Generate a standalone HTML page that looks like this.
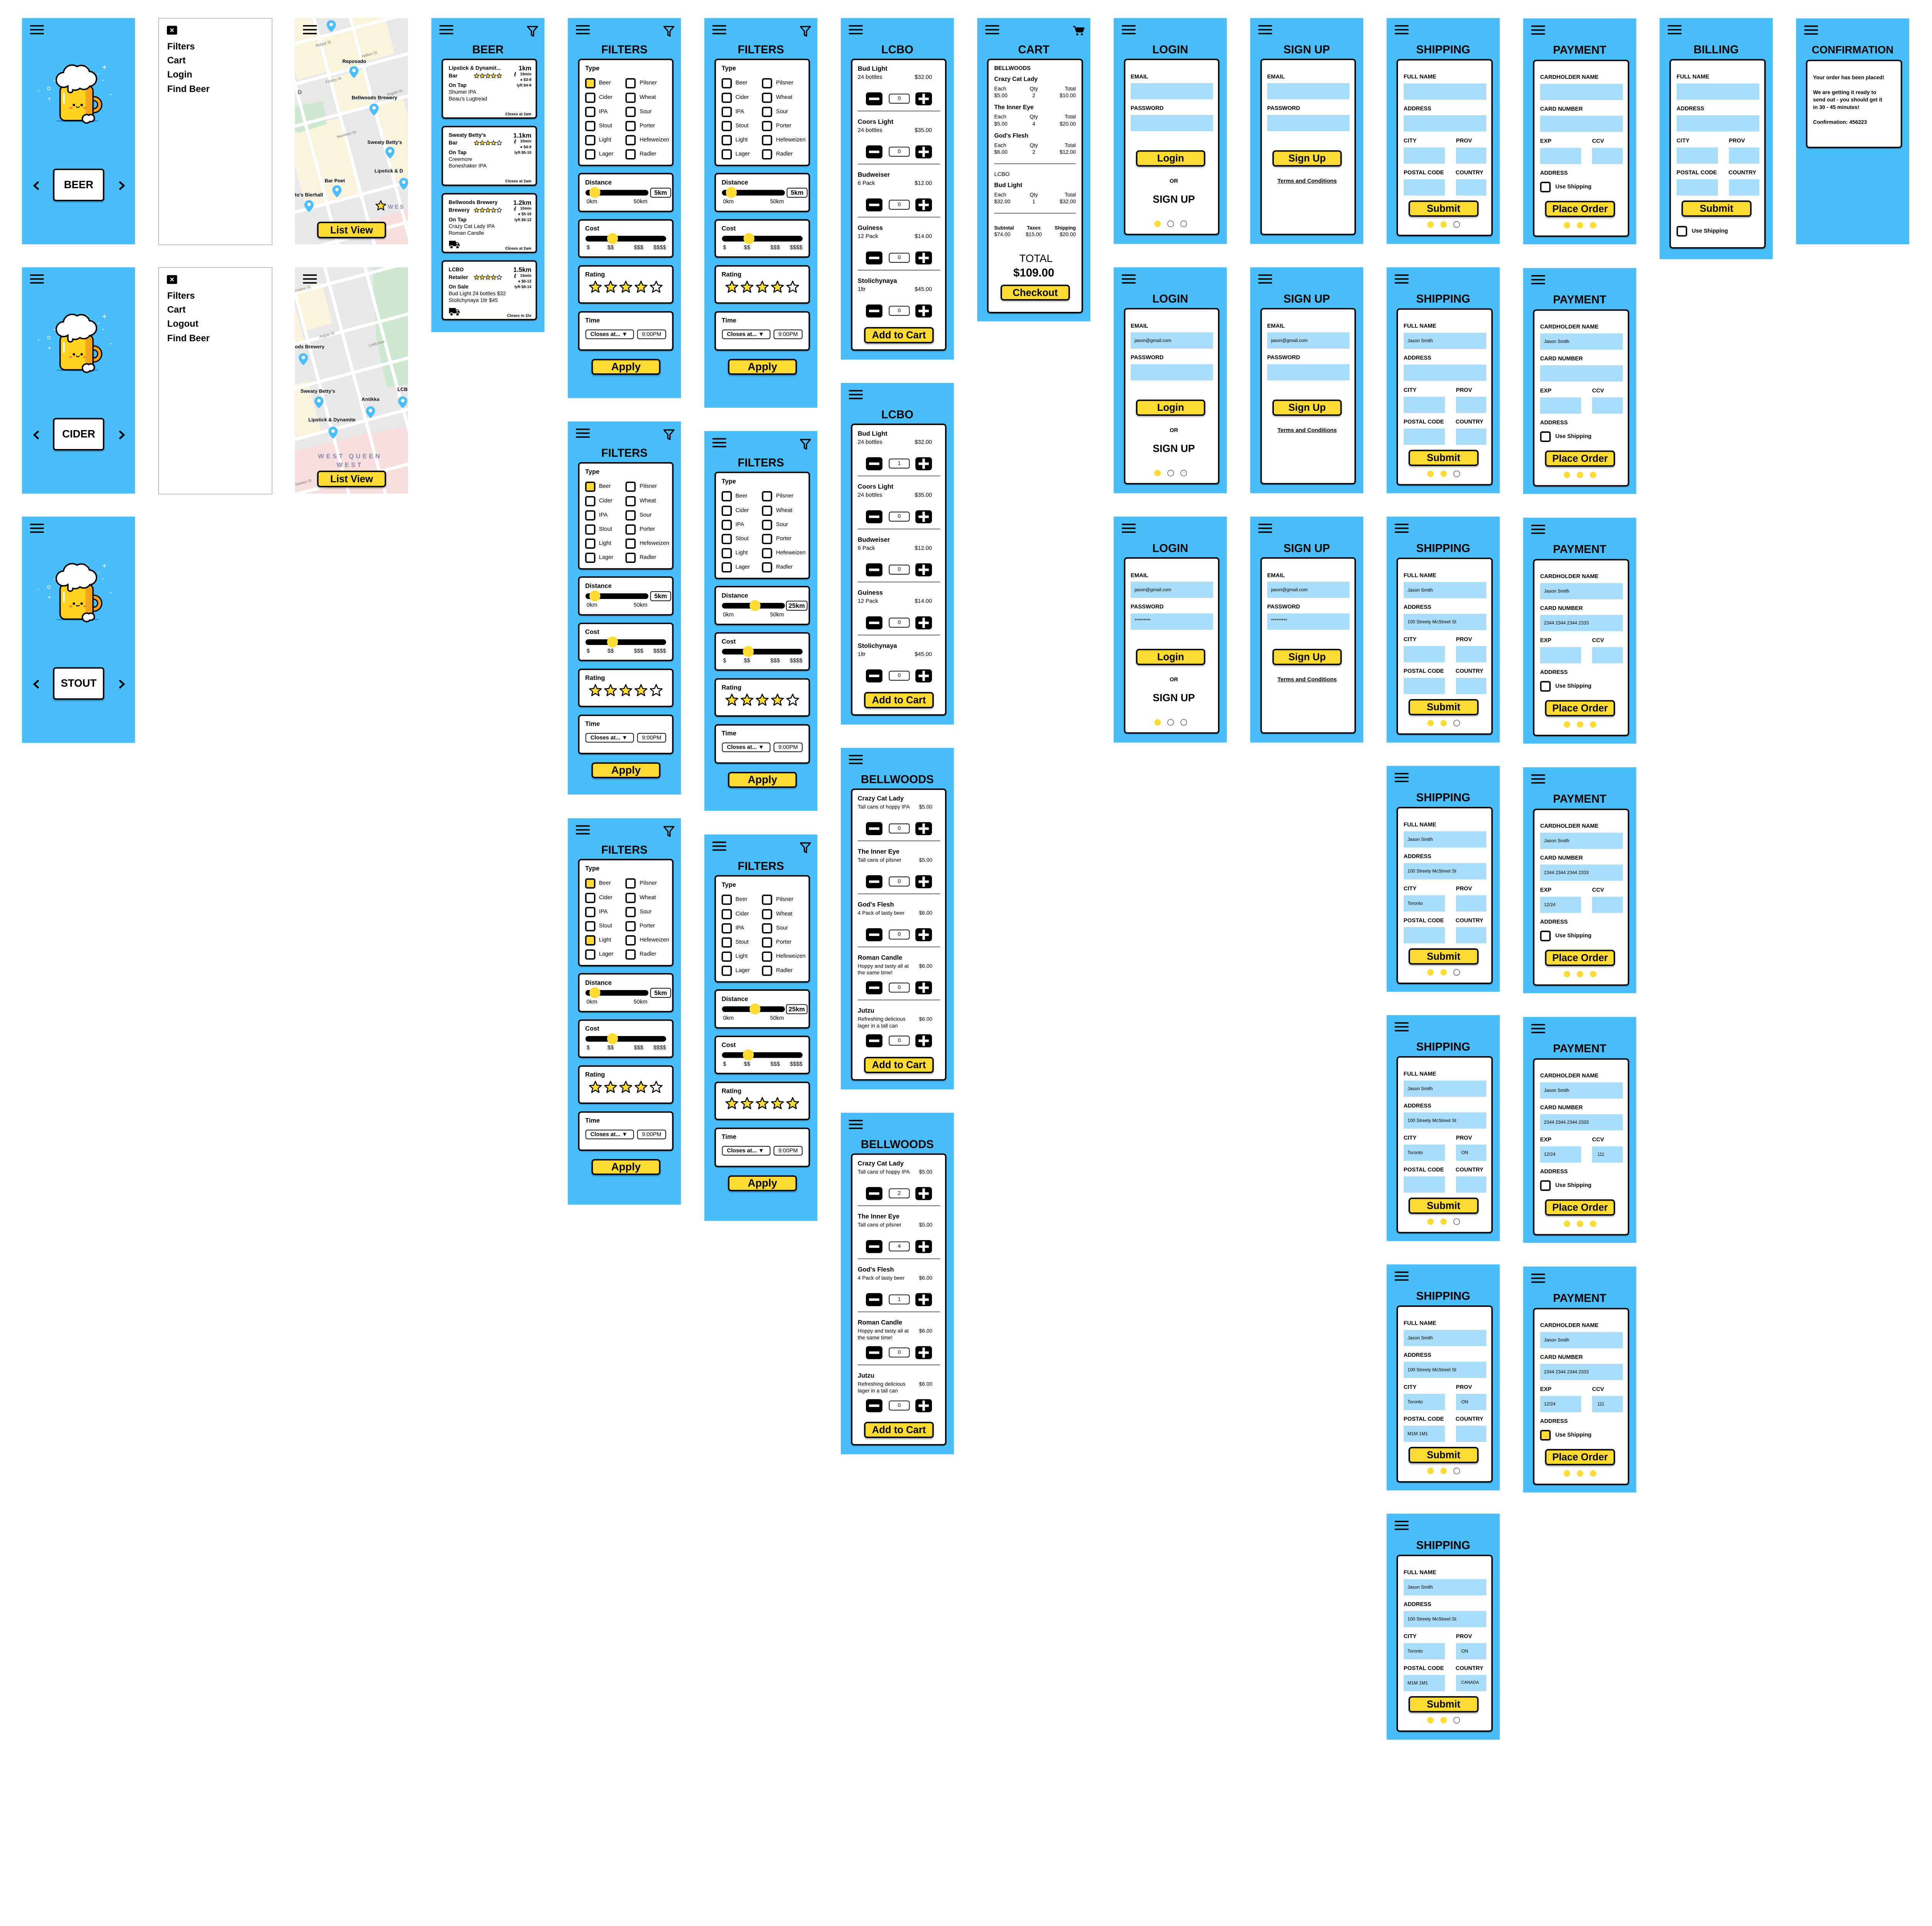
<!DOCTYPE html>
<html><head><meta charset="utf-8">
<meta name="viewport" content="width=5462, initial-scale=1">
<style>
html{margin:0;padding:0;width:5462px;height:4984px;overflow:hidden}
body{margin:0;width:5462px;height:4984px;position:relative;background:#fff;font-family:"Liberation Sans",Arial,sans-serif;overflow:hidden;color:#000}
#w{position:absolute;left:0;top:0;width:5462px;height:4984px;transform:scale(0.915);transform-origin:0 0}
.s{position:absolute;width:320px;background:#4ABEFB}
.s>*{position:absolute;box-sizing:border-box}
.hb{left:23px;top:20px;width:39px;height:26px;border-top:4px solid #000;border-bottom:4px solid #000}
.hb:after{content:"";position:absolute;left:0;right:0;top:7px;height:4px;background:#000}
.t{left:0;width:320px;text-align:center;font-weight:bold;font-size:32px;line-height:1;top:73px;white-space:nowrap}
.c{left:29px;width:270px;background:#fff;border:4px solid #000;border-radius:9px;box-shadow:0 2px 3px rgba(0,0,0,.25)}
.x{white-space:nowrap;line-height:1}
.b{font-weight:bold}
.in{background:#A9DCF8;height:46px;padding-left:11px;line-height:46px;font-size:13px;white-space:nowrap}
.btn{background:#FDDB33;border:4px solid #000;border-radius:9px;text-align:center;font-weight:bold;box-shadow:0 3px 4px rgba(0,0,0,.3);white-space:nowrap}
.d{width:18px;height:18px;border-radius:50%;background:#FDDB33}
.d0{background:#fff;border:1.5px solid #000}
.cb{width:29px;height:29px;border:4px solid #000;border-radius:6px;background:#fff}
.on{background:#FDDB33}
.bar{height:16px;border-radius:8px;background:#000}
.kn{width:31px;height:31px;border-radius:50%;background:#FDDB33}
.vb{background:#fff;border:2px solid #000;border-radius:6px;text-align:center;font-size:18px;line-height:24px;font-weight:bold}
.dd{background:#fff;border:2px solid #000;border-radius:6px;font-size:16px;line-height:23px;padding-left:12px;white-space:nowrap;font-weight:bold;height:27px}
.q{background:#fff;border:2px solid #000;border-radius:6px;text-align:center;font-size:15px;line-height:24px;width:59px;height:28px}
.dv{height:2px;background:#555;left:48px;width:233px}
.menu{background:#fff;border:1px solid #777}
.mi{left:24px;font-size:26px;font-weight:bold;line-height:1;white-space:nowrap}
.ml{font-weight:bold;font-size:14px;fill:#000;stroke:#fff;stroke-width:3px;paint-order:stroke;font-family:"Liberation Sans",sans-serif}
.sl{font-size:11px;fill:#7a7a7a;font-family:"Liberation Sans",sans-serif}
.sm{font-size:11px;font-weight:bold}
</style></head><body>
<svg width="0" height="0" style="position:absolute"><defs>
<symbol id="st" viewBox="0 0 24 24"><path d="M12 2L15 9L22.5 9.6L16.8 14.4L18.6 21.8L12 17.8L5.4 21.8L7.2 14.4L1.5 9.6L9 9Z" fill="#FDDB33" stroke="#000" stroke-width="1.8" stroke-linejoin="round"/></symbol>
<symbol id="se" viewBox="0 0 24 24"><path d="M12 2L15 9L22.5 9.6L16.8 14.4L18.6 21.8L12 17.8L5.4 21.8L7.2 14.4L1.5 9.6L9 9Z" fill="#fff" stroke="#000" stroke-width="1.8" stroke-linejoin="round"/></symbol>
<symbol id="mn" viewBox="0 0 47 37"><rect width="47" height="37" rx="8"/><rect x="9" y="15" width="29" height="7" fill="#fff"/></symbol>
<symbol id="pl" viewBox="0 0 47 37"><rect width="47" height="37" rx="8"/><rect x="9" y="15" width="29" height="7" fill="#fff"/><rect x="20" y="4" width="7" height="29" fill="#fff"/></symbol>
<symbol id="pin" viewBox="0 0 26 34"><path d="M13 0C5.8 0 0 5.8 0 13c0 9 13 21 13 21s13-12 13-21C26 5.8 20.2 0 13 0z" fill="#4ABEFB"/><circle cx="13" cy="12" r="5" fill="#fff"/></symbol>
<symbol id="trk" viewBox="0 0 32 26"><path d="M1 2h19v15H1z M20 6h6l5 6v6H20z" fill="#000"/><rect x="22" y="8" width="4" height="4" fill="#fff"/><circle cx="8" cy="20" r="4.5" fill="#000" stroke="#fff" stroke-width="2"/><circle cx="25" cy="20" r="4.5" fill="#000" stroke="#fff" stroke-width="2"/></symbol>
<symbol id="fn" viewBox="0 0 32 31"><path d="M2 2H30L19 15V29L13 26V15Z" fill="none" stroke="#000" stroke-width="3.5" stroke-linejoin="round"/></symbol>
<symbol id="mug" viewBox="0 0 220 170">
<path d="M143 4v10M138 9h10M193 4v10M188 9h10M50 46h5M38 101v-6M35 98h6M187 46h4M209 86h4M175 28h3" stroke="#fff" stroke-width="2"/>
<circle cx="36" cy="69" r="4" fill="none" stroke="#fff" stroke-width="1.5"/><circle cx="7" cy="76" r="1.5" fill="#fff"/>
<ellipse cx="117" cy="161" rx="62" ry="3" fill="#2A8BCB"/>
<circle cx="163" cy="115" r="17" fill="none" stroke="#000" stroke-width="15"/>
<circle cx="163" cy="115" r="17" fill="none" stroke="#F6A21C" stroke-width="8"/>
<rect x="68" y="62" width="93" height="98" rx="14" fill="#FFD21F" stroke="#000" stroke-width="4"/>
<rect x="140" y="66" width="18" height="90" rx="6" fill="#F6A21C"/>
<rect x="76" y="82" width="5" height="30" rx="2" fill="#fff"/>
<g stroke="#000" stroke-width="8"><circle cx="78" cy="45" r="19"/><circle cx="102" cy="28" r="23"/><circle cx="128" cy="28" r="22"/><circle cx="150" cy="42" r="19"/><circle cx="110" cy="52" r="20"/><circle cx="135" cy="52" r="18"/><rect x="92" y="55" width="10" height="24" rx="5"/><circle cx="143" cy="155" r="10"/><circle cx="155" cy="153" r="8"/></g>
<g fill="#fff"><circle cx="78" cy="45" r="19"/><circle cx="102" cy="28" r="23"/><circle cx="128" cy="28" r="22"/><circle cx="150" cy="42" r="19"/><circle cx="110" cy="52" r="20"/><circle cx="135" cy="52" r="18"/><rect x="92" y="55" width="10" height="24" rx="5"/><circle cx="143" cy="155" r="10"/><circle cx="155" cy="153" r="8"/></g>
<circle cx="107" cy="116" r="3.5"/><circle cx="129" cy="116" r="3.5"/>
<path d="M113 120q5 6 10 0" fill="none" stroke="#000" stroke-width="2.5"/>
<ellipse cx="98" cy="124" rx="5" ry="3" fill="#F08A3A"/><ellipse cx="138" cy="124" rx="5" ry="3" fill="#F08A3A"/>
</symbol>
<symbol id="chl" viewBox="0 0 24 28"><polyline points="18,3 6,14 18,25" fill="none" stroke="#000" stroke-width="5"/></symbol>
<symbol id="chr" viewBox="0 0 24 28"><polyline points="6,3 18,14 6,25" fill="none" stroke="#000" stroke-width="5"/></symbol>
<symbol id="cart" viewBox="0 0 32 28"><path d="M0 2h5l5 15h17l4-11H8" fill="none" stroke="#000" stroke-width="3"/><path d="M8 6h23l-4 11H11z" fill="#000"/><circle cx="12" cy="24" r="3"/><circle cx="25" cy="24" r="3"/></symbol>
<symbol id="walk" viewBox="0 0 10 12"><circle cx="6" cy="1.7" r="1.7"/><path d="M5 4L4 8L2 12M4 8L7 12M2 6.5L5 4.5L8 6.5" stroke="#000" stroke-width="1.4" fill="none"/></symbol>
</defs></svg>
<div id="w">

<!-- ===== Splash screens ===== -->
<div class="s" style="left:62px;top:51px;height:640px"><i class="hb"></i>
<svg style="left:40px;top:130px" width="220" height="170"><use href="#mug"/></svg>
<svg style="left:29px;top:460px" width="24" height="28"><use href="#chl"/></svg>
<svg style="left:270px;top:460px" width="24" height="28"><use href="#chr"/></svg>
<div class="btn" style="left:88px;top:426px;width:145px;height:92px;background:#fff;font-size:30px;line-height:84px;border-radius:8px">BEER</div></div>
<div class="s" style="left:62px;top:756px;height:640px"><i class="hb"></i>
<svg style="left:40px;top:130px" width="220" height="170"><use href="#mug"/></svg>
<svg style="left:29px;top:460px" width="24" height="28"><use href="#chl"/></svg>
<svg style="left:270px;top:460px" width="24" height="28"><use href="#chr"/></svg>
<div class="btn" style="left:88px;top:426px;width:145px;height:92px;background:#fff;font-size:30px;line-height:84px;border-radius:8px">CIDER</div></div>
<div class="s" style="left:62px;top:1461px;height:640px"><i class="hb"></i>
<svg style="left:40px;top:130px" width="220" height="170"><use href="#mug"/></svg>
<svg style="left:29px;top:460px" width="24" height="28"><use href="#chl"/></svg>
<svg style="left:270px;top:460px" width="24" height="28"><use href="#chr"/></svg>
<div class="btn" style="left:88px;top:426px;width:145px;height:92px;background:#fff;font-size:30px;line-height:84px;border-radius:8px">STOUT</div></div>

<!-- ===== Menus ===== -->
<div class="s menu" style="left:448px;top:51px;height:640px">
<div style="left:23px;top:21px;width:29px;height:25px;background:#000;border-radius:3px;color:#fff;font-weight:bold;font-size:22px;line-height:25px;text-align:center">×</div>
<div class="mi" style="top:66px">Filters</div><div class="mi" style="top:105px">Cart</div><div class="mi" style="top:145px">Login</div><div class="mi" style="top:186px">Find Beer</div></div>
<div class="s menu" style="left:448px;top:756px;height:640px">
<div style="left:23px;top:21px;width:29px;height:25px;background:#000;border-radius:3px;color:#fff;font-weight:bold;font-size:22px;line-height:25px;text-align:center">×</div>
<div class="mi" style="top:66px">Filters</div><div class="mi" style="top:105px">Cart</div><div class="mi" style="top:145px">Logout</div><div class="mi" style="top:186px">Find Beer</div></div>

<!-- ===== Maps ===== -->
<div class="s" style="left:834px;top:51px;height:640px;background:#E8E8EB;overflow:hidden">
<svg style="left:0;top:0" width="320" height="640">
<rect width="320" height="640" fill="#E8E8EB"/>
<g transform="rotate(-15 160 320)" fill="#FBF4DC"><rect x="50" y="-60" width="85" height="200"/><rect x="145" y="45" width="90" height="100"/><rect x="245" y="-40" width="90" height="180"/><rect x="-20" y="270" width="55" height="225"/><rect x="45" y="275" width="90" height="220"/><rect x="145" y="160" width="90" height="100"/><rect x="245" y="270" width="80" height="220"/></g>
<path d="M0 250L80 235L90 300L10 325L0 320Z" fill="#CDE8CF"/>
<path d="M205 575L320 540L320 640L225 640Z" fill="#F7DFDF"/>
<g transform="rotate(-15 160 320)" stroke="#fff" stroke-width="9"><line x1="-200" y1="40" x2="500" y2="40"/><line x1="-200" y1="150" x2="500" y2="150"/><line x1="-200" y1="265" x2="500" y2="265"/><line x1="-200" y1="500" x2="500" y2="500"/><line x1="-200" y1="610" x2="500" y2="610"/><line x1="40" y1="-200" x2="40" y2="800"/><line x1="140" y1="-200" x2="140" y2="800"/><line x1="240" y1="-200" x2="240" y2="800"/></g>
<text class="sl" x="60" y="82" transform="rotate(-15 60 82)">Rolyat St</text>
<text class="sl" x="190" y="112" transform="rotate(-15 190 112)">Halton St</text>
<text class="sl" x="88" y="185" transform="rotate(-15 88 185)">Foxley St</text>
<text class="sl" x="262" y="220" transform="rotate(-15 262 220)">Argyle St</text>
<text class="sl" x="120" y="340" transform="rotate(-15 120 340)">Humbert St</text>
<text x="8" y="215" font-size="16" font-weight="bold" fill="#666" font-family="Liberation Sans">D</text>
<use href="#pin" x="90" y="6" width="26" height="34"/><use href="#pin" x="154" y="136" width="26" height="34"/><use href="#pin" x="211" y="242" width="26" height="34"/><use href="#pin" x="256" y="364" width="26" height="34"/><use href="#pin" x="295" y="452" width="26" height="34"/><use href="#pin" x="106" y="473" width="26" height="34"/><use href="#pin" x="27" y="515" width="26" height="34"/>
<use href="#st" x="227" y="514" width="32" height="32"/>
<text x="263" y="539" font-size="16" font-weight="bold" fill="#8C86A8" letter-spacing="4" font-family="Liberation Sans">WES</text>
<text class="ml" x="168" y="127" text-anchor="middle">Reposado</text>
<text class="ml" x="225" y="230" text-anchor="middle">Bellwoods Brewery</text>
<text class="ml" x="205" y="356">Sweaty Betty's</text>
<text class="ml" x="225" y="437">Lipstick &amp; D</text>
<text class="ml" x="113" y="465" text-anchor="middle">Bar Poet</text>
<text class="ml" x="0" y="505">to's Bierhall</text>
</svg>
<i class="hb"></i>
<div class="btn" style="left:63px;top:576px;width:195px;height:47px;font-size:28px;line-height:39px">List View</div></div>

<div class="s" style="left:834px;top:756px;height:640px;background:#E8E8EB;overflow:hidden">
<svg style="left:0;top:0" width="320" height="640">
<rect width="320" height="640" fill="#E8E8EB"/>
<path d="M220 0H320V330L260 340L230 200Z" fill="#CDE8CF"/>
<g transform="rotate(-15 160 320)" fill="#FBF4DC"><rect x="0" y="-40" width="60" height="220"/><rect x="70" y="30" width="80" height="120"/><rect x="-40" y="290" width="80" height="150"/></g>
<path d="M0 520L200 470L320 450V640H0Z" fill="#F7DFDF"/>
<g transform="rotate(-15 160 320)" stroke="#fff" stroke-width="9"><line x1="-200" y1="40" x2="500" y2="40"/><line x1="-200" y1="180" x2="500" y2="180"/><line x1="-200" y1="300" x2="500" y2="300"/><line x1="-200" y1="440" x2="500" y2="440"/><line x1="-200" y1="590" x2="500" y2="590"/><line x1="70" y1="-200" x2="70" y2="800"/><line x1="170" y1="-200" x2="170" y2="800"/><line x1="280" y1="-200" x2="280" y2="800"/></g>
<text class="sl" x="2" y="70" transform="rotate(-15 2 70)">Halton St</text>
<text class="sl" x="70" y="200" transform="rotate(-15 70 200)">Argyle St</text>
<text class="sl" x="210" y="225" transform="rotate(-15 210 225)">Lobb Ave</text>
<text class="sl" x="2" y="618" transform="rotate(-15 2 618)">Stokes St</text>
<use href="#pin" x="11" y="243" width="26" height="34"/><use href="#pin" x="55" y="365" width="26" height="34"/><use href="#pin" x="201" y="393" width="26" height="34"/><use href="#pin" x="292" y="365" width="26" height="34"/><use href="#pin" x="95" y="451" width="26" height="34"/>
<text class="ml" x="0" y="229">ods Brewery</text>
<text class="ml" x="65" y="355" text-anchor="middle">Sweaty Betty's</text>
<text class="ml" x="214" y="378" text-anchor="middle">Antikka</text>
<text class="ml" x="290" y="350">LCBO</text>
<text class="ml" x="105" y="436" text-anchor="middle">Lipstick &amp; Dynamite</text>
<text x="156" y="540" text-anchor="middle" font-size="18" font-weight="bold" fill="#8C86A8" letter-spacing="6" font-family="Liberation Sans">WEST QUEEN</text>
<text x="156" y="565" text-anchor="middle" font-size="18" font-weight="bold" fill="#8C86A8" letter-spacing="6" font-family="Liberation Sans">WEST</text>
</svg>
<i class="hb"></i>
<div class="btn" style="left:63px;top:575px;width:195px;height:47px;font-size:28px;line-height:39px">List View</div></div>

<!-- ===== BEER list ===== -->
<div class="s" style="left:1220px;top:51px;height:888px"><i class="hb"></i>
<svg style="left:270px;top:22px" width="32" height="31"><use href="#fn"/></svg>
<div class="t">BEER</div>
<div class="c" style="top:115px;height:170px"></div>
<div class="x b" style="left:49px;top:134px;font-size:15px">Lipstick &amp; Dynamit...</div>
<div class="x b" style="left:49px;top:156px;font-size:15px">Bar</div>
<svg style="left:120px;top:155px" width="82" height="16"><use href="#st" width="16" height="16"/><use href="#st" x="16" width="16" height="16"/><use href="#st" x="32" width="16" height="16"/><use href="#st" x="48" width="16" height="16"/><use href="#st" x="64" width="16" height="16"/></svg>
<div class="x b" style="right:37px;top:133px;font-size:18px">1km</div>
<div class="x sm" style="right:37px;top:154px">10min</div><svg style="left:232px;top:153px" width="10" height="12"><use href="#walk"/></svg>
<div class="x sm" style="right:37px;top:170px">● $3-8</div>
<div class="x sm" style="right:37px;top:186px">lyft $4-9</div>
<div class="x b" style="left:49px;top:183px;font-size:15px">On Tap</div>
<div class="x" style="left:49px;top:202px;font-size:15px">Shumei IPA</div>
<div class="x" style="left:49px;top:221px;font-size:15px">Beau's Lugtread</div>
<div class="x sm" style="right:37px;top:267px">Closes at 2am</div>

<div class="c" style="top:305px;height:170px"></div>
<div class="x b" style="left:49px;top:324px;font-size:15px">Sweaty Betty's</div>
<div class="x b" style="left:49px;top:346px;font-size:15px">Bar</div>
<svg style="left:120px;top:345px" width="82" height="16"><use href="#st" width="16" height="16"/><use href="#st" x="16" width="16" height="16"/><use href="#st" x="32" width="16" height="16"/><use href="#st" x="48" width="16" height="16"/><use href="#se" x="64" width="16" height="16"/></svg>
<div class="x b" style="right:37px;top:323px;font-size:18px">1.1km</div>
<div class="x sm" style="right:37px;top:344px">10min</div><svg style="left:232px;top:343px" width="10" height="12"><use href="#walk"/></svg>
<div class="x sm" style="right:37px;top:360px">● $4-9</div>
<div class="x sm" style="right:37px;top:376px">lyft $5-10</div>
<div class="x b" style="left:49px;top:373px;font-size:15px">On Tap</div>
<div class="x" style="left:49px;top:392px;font-size:15px">Creemore</div>
<div class="x" style="left:49px;top:411px;font-size:15px">Boneshaker IPA</div>
<div class="x sm" style="right:37px;top:457px">Closes at 2am</div>

<div class="c" style="top:495px;height:170px"></div>
<div class="x b" style="left:49px;top:514px;font-size:15px">Bellwoods Brewery</div>
<div class="x b" style="left:49px;top:536px;font-size:15px">Brewery</div>
<svg style="left:120px;top:535px" width="82" height="16"><use href="#st" width="16" height="16"/><use href="#st" x="16" width="16" height="16"/><use href="#st" x="32" width="16" height="16"/><use href="#st" x="48" width="16" height="16"/><use href="#se" x="64" width="16" height="16"/></svg>
<div class="x b" style="right:37px;top:513px;font-size:18px">1.2km</div>
<div class="x sm" style="right:37px;top:534px">10min</div><svg style="left:232px;top:533px" width="10" height="12"><use href="#walk"/></svg>
<div class="x sm" style="right:37px;top:550px">● $5-10</div>
<div class="x sm" style="right:37px;top:566px">lyft $6-12</div>
<div class="x b" style="left:49px;top:563px;font-size:15px">On Tap</div>
<div class="x" style="left:49px;top:582px;font-size:15px">Crazy Cat Lady IPA</div>
<div class="x" style="left:49px;top:601px;font-size:15px">Roman Candle</div>
<svg style="left:49px;top:628px" width="32" height="26"><use href="#trk"/></svg>
<div class="x sm" style="right:37px;top:647px">Closes at 2am</div>

<div class="c" style="top:685px;height:170px"></div>
<div class="x b" style="left:49px;top:704px;font-size:15px">LCBO</div>
<div class="x b" style="left:49px;top:726px;font-size:15px">Retailer</div>
<svg style="left:120px;top:725px" width="82" height="16"><use href="#st" width="16" height="16"/><use href="#st" x="16" width="16" height="16"/><use href="#st" x="32" width="16" height="16"/><use href="#st" x="48" width="16" height="16"/><use href="#se" x="64" width="16" height="16"/></svg>
<div class="x b" style="right:37px;top:703px;font-size:18px">1.5km</div>
<div class="x sm" style="right:37px;top:724px">15min</div><svg style="left:232px;top:723px" width="10" height="12"><use href="#walk"/></svg>
<div class="x sm" style="right:37px;top:740px">● $6-12</div>
<div class="x sm" style="right:37px;top:756px">lyft $8-14</div>
<div class="x b" style="left:49px;top:753px;font-size:15px">On Sale</div>
<div class="x" style="left:49px;top:772px;font-size:15px">Bud Light 24 bottles $32</div>
<div class="x" style="left:49px;top:791px;font-size:15px">Stolichynaya 1ltr $45</div>
<svg style="left:49px;top:818px" width="32" height="26"><use href="#trk"/></svg>
<div class="x sm" style="right:37px;top:837px">Closes in 1hr</div>
</div>

<!-- ===== FILTERS (6 variants) ===== -->
<div class="s" style="left:1606px;top:51px;height:1075px"><i class="hb"></i>
<svg style="left:270px;top:22px" width="32" height="31"><use href="#fn"/></svg><div class="t">FILTERS</div>
<div class="c" style="top:115px;height:304px"></div>
<div class="x b" style="left:49px;top:133px;font-size:18px">Type</div>
<i class="cb on" style="left:49px;top:170px"></i><i class="cb" style="left:49px;top:211px"></i><i class="cb" style="left:49px;top:251px"></i><i class="cb" style="left:49px;top:291px"></i><i class="cb" style="left:49px;top:331px"></i><i class="cb" style="left:49px;top:371px"></i>
<i class="cb" style="left:163px;top:170px"></i><i class="cb" style="left:163px;top:211px"></i><i class="cb" style="left:163px;top:251px"></i><i class="cb" style="left:163px;top:291px"></i><i class="cb" style="left:163px;top:331px"></i><i class="cb" style="left:163px;top:371px"></i>
<div class="x" style="left:88px;top:176px;font-size:16px">Beer</div><div class="x" style="left:88px;top:217px;font-size:16px">Cider</div><div class="x" style="left:88px;top:257px;font-size:16px">IPA</div><div class="x" style="left:88px;top:297px;font-size:16px">Stout</div><div class="x" style="left:88px;top:337px;font-size:16px">Light</div><div class="x" style="left:88px;top:377px;font-size:16px">Lager</div>
<div class="x" style="left:203px;top:176px;font-size:16px">Pilsner</div><div class="x" style="left:203px;top:217px;font-size:16px">Wheat</div><div class="x" style="left:203px;top:257px;font-size:16px">Sour</div><div class="x" style="left:203px;top:297px;font-size:16px">Porter</div><div class="x" style="left:203px;top:337px;font-size:16px">Hefeweizen</div><div class="x" style="left:203px;top:377px;font-size:16px">Radler</div>
<div class="c" style="top:438px;height:111px"></div>
<div class="x b" style="left:49px;top:456px;font-size:18px">Distance</div>
<i class="bar" style="left:50px;top:486px;width:178px"></i><i class="kn" style="left:61px;top:478px"></i>
<div class="vb" style="left:233px;top:480px;width:59px;height:28px">5km</div>
<div class="x" style="left:53px;top:512px;font-size:16px">0km</div><div class="x" style="left:186px;top:512px;font-size:16px">50km</div>
<div class="c" style="top:569px;height:109px"></div>
<div class="x b" style="left:49px;top:586px;font-size:18px">Cost</div>
<i class="bar" style="left:50px;top:616px;width:228px"></i><i class="kn" style="left:111px;top:608px"></i>
<div class="x" style="left:53px;top:642px;font-size:16px">$</div><div class="x" style="left:112px;top:642px;font-size:16px">$$</div><div class="x" style="left:187px;top:642px;font-size:16px">$$$</div><div class="x" style="left:242px;top:642px;font-size:16px">$$$$</div>
<div class="c" style="top:699px;height:109px"></div>
<div class="x b" style="left:49px;top:716px;font-size:18px">Rating</div>
<svg style="left:59px;top:741px" width="212" height="38"><use href="#st" x="0" width="38" height="38"/><use href="#st" x="43" width="38" height="38"/><use href="#st" x="86" width="38" height="38"/><use href="#st" x="129" width="38" height="38"/><use href="#se" x="172" width="38" height="38"/></svg>
<div class="c" style="top:829px;height:112px"></div>
<div class="x b" style="left:49px;top:846px;font-size:18px">Time</div>
<div class="dd" style="left:50px;top:881px;width:137px">Closes at... ▼</div>
<div class="vb" style="left:196px;top:881px;width:82px;height:27px;font-weight:normal;font-size:16px">9:00PM</div>
<div class="btn" style="left:67px;top:964px;width:195px;height:45px;font-size:30px;line-height:37px">Apply</div></div>

<div class="s" style="left:1606px;top:1192px;height:1055px"><i class="hb"></i>
<svg style="left:270px;top:22px" width="32" height="31"><use href="#fn"/></svg><div class="t">FILTERS</div>
<div class="c" style="top:115px;height:304px"></div>
<div class="x b" style="left:49px;top:133px;font-size:18px">Type</div>
<i class="cb on" style="left:49px;top:170px"></i><i class="cb" style="left:49px;top:211px"></i><i class="cb" style="left:49px;top:251px"></i><i class="cb" style="left:49px;top:291px"></i><i class="cb" style="left:49px;top:331px"></i><i class="cb" style="left:49px;top:371px"></i>
<i class="cb" style="left:163px;top:170px"></i><i class="cb" style="left:163px;top:211px"></i><i class="cb" style="left:163px;top:251px"></i><i class="cb" style="left:163px;top:291px"></i><i class="cb" style="left:163px;top:331px"></i><i class="cb" style="left:163px;top:371px"></i>
<div class="x" style="left:88px;top:176px;font-size:16px">Beer</div><div class="x" style="left:88px;top:217px;font-size:16px">Cider</div><div class="x" style="left:88px;top:257px;font-size:16px">IPA</div><div class="x" style="left:88px;top:297px;font-size:16px">Stout</div><div class="x" style="left:88px;top:337px;font-size:16px">Light</div><div class="x" style="left:88px;top:377px;font-size:16px">Lager</div>
<div class="x" style="left:203px;top:176px;font-size:16px">Pilsner</div><div class="x" style="left:203px;top:217px;font-size:16px">Wheat</div><div class="x" style="left:203px;top:257px;font-size:16px">Sour</div><div class="x" style="left:203px;top:297px;font-size:16px">Porter</div><div class="x" style="left:203px;top:337px;font-size:16px">Hefeweizen</div><div class="x" style="left:203px;top:377px;font-size:16px">Radler</div>
<div class="c" style="top:438px;height:111px"></div>
<div class="x b" style="left:49px;top:456px;font-size:18px">Distance</div>
<i class="bar" style="left:50px;top:486px;width:178px"></i><i class="kn" style="left:61px;top:478px"></i>
<div class="vb" style="left:233px;top:480px;width:59px;height:28px">5km</div>
<div class="x" style="left:53px;top:512px;font-size:16px">0km</div><div class="x" style="left:186px;top:512px;font-size:16px">50km</div>
<div class="c" style="top:569px;height:109px"></div>
<div class="x b" style="left:49px;top:586px;font-size:18px">Cost</div>
<i class="bar" style="left:50px;top:616px;width:228px"></i><i class="kn" style="left:111px;top:608px"></i>
<div class="x" style="left:53px;top:642px;font-size:16px">$</div><div class="x" style="left:112px;top:642px;font-size:16px">$$</div><div class="x" style="left:187px;top:642px;font-size:16px">$$$</div><div class="x" style="left:242px;top:642px;font-size:16px">$$$$</div>
<div class="c" style="top:699px;height:109px"></div>
<div class="x b" style="left:49px;top:716px;font-size:18px">Rating</div>
<svg style="left:59px;top:741px" width="212" height="38"><use href="#st" x="0" width="38" height="38"/><use href="#st" x="43" width="38" height="38"/><use href="#st" x="86" width="38" height="38"/><use href="#st" x="129" width="38" height="38"/><use href="#se" x="172" width="38" height="38"/></svg>
<div class="c" style="top:829px;height:112px"></div>
<div class="x b" style="left:49px;top:846px;font-size:18px">Time</div>
<div class="dd" style="left:50px;top:881px;width:137px">Closes at... ▼</div>
<div class="vb" style="left:196px;top:881px;width:82px;height:27px;font-weight:normal;font-size:16px">9:00PM</div>
<div class="btn" style="left:67px;top:964px;width:195px;height:45px;font-size:30px;line-height:37px">Apply</div></div>

<div class="s" style="left:1606px;top:2314px;height:1093px"><i class="hb"></i>
<svg style="left:270px;top:22px" width="32" height="31"><use href="#fn"/></svg><div class="t">FILTERS</div>
<div class="c" style="top:115px;height:304px"></div>
<div class="x b" style="left:49px;top:133px;font-size:18px">Type</div>
<i class="cb on" style="left:49px;top:170px"></i><i class="cb" style="left:49px;top:211px"></i><i class="cb" style="left:49px;top:251px"></i><i class="cb" style="left:49px;top:291px"></i><i class="cb on" style="left:49px;top:331px"></i><i class="cb" style="left:49px;top:371px"></i>
<i class="cb" style="left:163px;top:170px"></i><i class="cb" style="left:163px;top:211px"></i><i class="cb" style="left:163px;top:251px"></i><i class="cb" style="left:163px;top:291px"></i><i class="cb" style="left:163px;top:331px"></i><i class="cb" style="left:163px;top:371px"></i>
<div class="x" style="left:88px;top:176px;font-size:16px">Beer</div><div class="x" style="left:88px;top:217px;font-size:16px">Cider</div><div class="x" style="left:88px;top:257px;font-size:16px">IPA</div><div class="x" style="left:88px;top:297px;font-size:16px">Stout</div><div class="x" style="left:88px;top:337px;font-size:16px">Light</div><div class="x" style="left:88px;top:377px;font-size:16px">Lager</div>
<div class="x" style="left:203px;top:176px;font-size:16px">Pilsner</div><div class="x" style="left:203px;top:217px;font-size:16px">Wheat</div><div class="x" style="left:203px;top:257px;font-size:16px">Sour</div><div class="x" style="left:203px;top:297px;font-size:16px">Porter</div><div class="x" style="left:203px;top:337px;font-size:16px">Hefeweizen</div><div class="x" style="left:203px;top:377px;font-size:16px">Radler</div>
<div class="c" style="top:438px;height:111px"></div>
<div class="x b" style="left:49px;top:456px;font-size:18px">Distance</div>
<i class="bar" style="left:50px;top:486px;width:178px"></i><i class="kn" style="left:61px;top:478px"></i>
<div class="vb" style="left:233px;top:480px;width:59px;height:28px">5km</div>
<div class="x" style="left:53px;top:512px;font-size:16px">0km</div><div class="x" style="left:186px;top:512px;font-size:16px">50km</div>
<div class="c" style="top:569px;height:109px"></div>
<div class="x b" style="left:49px;top:586px;font-size:18px">Cost</div>
<i class="bar" style="left:50px;top:616px;width:228px"></i><i class="kn" style="left:111px;top:608px"></i>
<div class="x" style="left:53px;top:642px;font-size:16px">$</div><div class="x" style="left:112px;top:642px;font-size:16px">$$</div><div class="x" style="left:187px;top:642px;font-size:16px">$$$</div><div class="x" style="left:242px;top:642px;font-size:16px">$$$$</div>
<div class="c" style="top:699px;height:109px"></div>
<div class="x b" style="left:49px;top:716px;font-size:18px">Rating</div>
<svg style="left:59px;top:741px" width="212" height="38"><use href="#st" x="0" width="38" height="38"/><use href="#st" x="43" width="38" height="38"/><use href="#st" x="86" width="38" height="38"/><use href="#st" x="129" width="38" height="38"/><use href="#se" x="172" width="38" height="38"/></svg>
<div class="c" style="top:829px;height:112px"></div>
<div class="x b" style="left:49px;top:846px;font-size:18px">Time</div>
<div class="dd" style="left:50px;top:881px;width:137px">Closes at... ▼</div>
<div class="vb" style="left:196px;top:881px;width:82px;height:27px;font-weight:normal;font-size:16px">9:00PM</div>
<div class="btn" style="left:67px;top:964px;width:195px;height:45px;font-size:30px;line-height:37px">Apply</div></div>

<div class="s" style="left:1992px;top:51px;height:1102px"><i class="hb"></i>
<svg style="left:270px;top:22px" width="32" height="31"><use href="#fn"/></svg><div class="t">FILTERS</div>
<div class="c" style="top:115px;height:304px"></div>
<div class="x b" style="left:49px;top:133px;font-size:18px">Type</div>
<i class="cb" style="left:49px;top:170px"></i><i class="cb" style="left:49px;top:211px"></i><i class="cb" style="left:49px;top:251px"></i><i class="cb" style="left:49px;top:291px"></i><i class="cb" style="left:49px;top:331px"></i><i class="cb" style="left:49px;top:371px"></i>
<i class="cb" style="left:163px;top:170px"></i><i class="cb" style="left:163px;top:211px"></i><i class="cb" style="left:163px;top:251px"></i><i class="cb" style="left:163px;top:291px"></i><i class="cb" style="left:163px;top:331px"></i><i class="cb" style="left:163px;top:371px"></i>
<div class="x" style="left:88px;top:176px;font-size:16px">Beer</div><div class="x" style="left:88px;top:217px;font-size:16px">Cider</div><div class="x" style="left:88px;top:257px;font-size:16px">IPA</div><div class="x" style="left:88px;top:297px;font-size:16px">Stout</div><div class="x" style="left:88px;top:337px;font-size:16px">Light</div><div class="x" style="left:88px;top:377px;font-size:16px">Lager</div>
<div class="x" style="left:203px;top:176px;font-size:16px">Pilsner</div><div class="x" style="left:203px;top:217px;font-size:16px">Wheat</div><div class="x" style="left:203px;top:257px;font-size:16px">Sour</div><div class="x" style="left:203px;top:297px;font-size:16px">Porter</div><div class="x" style="left:203px;top:337px;font-size:16px">Hefeweizen</div><div class="x" style="left:203px;top:377px;font-size:16px">Radler</div>
<div class="c" style="top:438px;height:111px"></div>
<div class="x b" style="left:49px;top:456px;font-size:18px">Distance</div>
<i class="bar" style="left:50px;top:486px;width:178px"></i><i class="kn" style="left:61px;top:478px"></i>
<div class="vb" style="left:233px;top:480px;width:59px;height:28px">5km</div>
<div class="x" style="left:53px;top:512px;font-size:16px">0km</div><div class="x" style="left:186px;top:512px;font-size:16px">50km</div>
<div class="c" style="top:569px;height:109px"></div>
<div class="x b" style="left:49px;top:586px;font-size:18px">Cost</div>
<i class="bar" style="left:50px;top:616px;width:228px"></i><i class="kn" style="left:111px;top:608px"></i>
<div class="x" style="left:53px;top:642px;font-size:16px">$</div><div class="x" style="left:112px;top:642px;font-size:16px">$$</div><div class="x" style="left:187px;top:642px;font-size:16px">$$$</div><div class="x" style="left:242px;top:642px;font-size:16px">$$$$</div>
<div class="c" style="top:699px;height:109px"></div>
<div class="x b" style="left:49px;top:716px;font-size:18px">Rating</div>
<svg style="left:59px;top:741px" width="212" height="38"><use href="#st" x="0" width="38" height="38"/><use href="#st" x="43" width="38" height="38"/><use href="#st" x="86" width="38" height="38"/><use href="#st" x="129" width="38" height="38"/><use href="#se" x="172" width="38" height="38"/></svg>
<div class="c" style="top:829px;height:112px"></div>
<div class="x b" style="left:49px;top:846px;font-size:18px">Time</div>
<div class="dd" style="left:50px;top:881px;width:137px">Closes at... ▼</div>
<div class="vb" style="left:196px;top:881px;width:82px;height:27px;font-weight:normal;font-size:16px">9:00PM</div>
<div class="btn" style="left:67px;top:964px;width:195px;height:45px;font-size:30px;line-height:37px">Apply</div></div>

<div class="s" style="left:1992px;top:1219px;height:1074px"><i class="hb"></i>
<svg style="left:270px;top:22px" width="32" height="31"><use href="#fn"/></svg><div class="t">FILTERS</div>
<div class="c" style="top:115px;height:304px"></div>
<div class="x b" style="left:49px;top:133px;font-size:18px">Type</div>
<i class="cb" style="left:49px;top:170px"></i><i class="cb" style="left:49px;top:211px"></i><i class="cb" style="left:49px;top:251px"></i><i class="cb" style="left:49px;top:291px"></i><i class="cb" style="left:49px;top:331px"></i><i class="cb" style="left:49px;top:371px"></i>
<i class="cb" style="left:163px;top:170px"></i><i class="cb" style="left:163px;top:211px"></i><i class="cb" style="left:163px;top:251px"></i><i class="cb" style="left:163px;top:291px"></i><i class="cb" style="left:163px;top:331px"></i><i class="cb" style="left:163px;top:371px"></i>
<div class="x" style="left:88px;top:176px;font-size:16px">Beer</div><div class="x" style="left:88px;top:217px;font-size:16px">Cider</div><div class="x" style="left:88px;top:257px;font-size:16px">IPA</div><div class="x" style="left:88px;top:297px;font-size:16px">Stout</div><div class="x" style="left:88px;top:337px;font-size:16px">Light</div><div class="x" style="left:88px;top:377px;font-size:16px">Lager</div>
<div class="x" style="left:203px;top:176px;font-size:16px">Pilsner</div><div class="x" style="left:203px;top:217px;font-size:16px">Wheat</div><div class="x" style="left:203px;top:257px;font-size:16px">Sour</div><div class="x" style="left:203px;top:297px;font-size:16px">Porter</div><div class="x" style="left:203px;top:337px;font-size:16px">Hefeweizen</div><div class="x" style="left:203px;top:377px;font-size:16px">Radler</div>
<div class="c" style="top:438px;height:111px"></div>
<div class="x b" style="left:49px;top:456px;font-size:18px">Distance</div>
<i class="bar" style="left:50px;top:486px;width:178px"></i><i class="kn" style="left:128px;top:478px"></i>
<div class="vb" style="left:231px;top:480px;width:61px;height:28px">25km</div>
<div class="x" style="left:53px;top:512px;font-size:16px">0km</div><div class="x" style="left:186px;top:512px;font-size:16px">50km</div>
<div class="c" style="top:569px;height:109px"></div>
<div class="x b" style="left:49px;top:586px;font-size:18px">Cost</div>
<i class="bar" style="left:50px;top:616px;width:228px"></i><i class="kn" style="left:109px;top:608px"></i>
<div class="x" style="left:53px;top:642px;font-size:16px">$</div><div class="x" style="left:112px;top:642px;font-size:16px">$$</div><div class="x" style="left:187px;top:642px;font-size:16px">$$$</div><div class="x" style="left:242px;top:642px;font-size:16px">$$$$</div>
<div class="c" style="top:699px;height:109px"></div>
<div class="x b" style="left:49px;top:716px;font-size:18px">Rating</div>
<svg style="left:59px;top:741px" width="212" height="38"><use href="#st" x="0" width="38" height="38"/><use href="#st" x="43" width="38" height="38"/><use href="#st" x="86" width="38" height="38"/><use href="#st" x="129" width="38" height="38"/><use href="#se" x="172" width="38" height="38"/></svg>
<div class="c" style="top:829px;height:112px"></div>
<div class="x b" style="left:49px;top:846px;font-size:18px">Time</div>
<div class="dd" style="left:50px;top:881px;width:137px">Closes at... ▼</div>
<div class="vb" style="left:196px;top:881px;width:82px;height:27px;font-weight:normal;font-size:16px">9:00PM</div>
<div class="btn" style="left:67px;top:964px;width:195px;height:45px;font-size:30px;line-height:37px">Apply</div></div>

<div class="s" style="left:1992px;top:2360px;height:1093px"><i class="hb"></i>
<svg style="left:270px;top:22px" width="32" height="31"><use href="#fn"/></svg><div class="t">FILTERS</div>
<div class="c" style="top:115px;height:304px"></div>
<div class="x b" style="left:49px;top:133px;font-size:18px">Type</div>
<i class="cb" style="left:49px;top:170px"></i><i class="cb" style="left:49px;top:211px"></i><i class="cb" style="left:49px;top:251px"></i><i class="cb" style="left:49px;top:291px"></i><i class="cb" style="left:49px;top:331px"></i><i class="cb" style="left:49px;top:371px"></i>
<i class="cb" style="left:163px;top:170px"></i><i class="cb" style="left:163px;top:211px"></i><i class="cb" style="left:163px;top:251px"></i><i class="cb" style="left:163px;top:291px"></i><i class="cb" style="left:163px;top:331px"></i><i class="cb" style="left:163px;top:371px"></i>
<div class="x" style="left:88px;top:176px;font-size:16px">Beer</div><div class="x" style="left:88px;top:217px;font-size:16px">Cider</div><div class="x" style="left:88px;top:257px;font-size:16px">IPA</div><div class="x" style="left:88px;top:297px;font-size:16px">Stout</div><div class="x" style="left:88px;top:337px;font-size:16px">Light</div><div class="x" style="left:88px;top:377px;font-size:16px">Lager</div>
<div class="x" style="left:203px;top:176px;font-size:16px">Pilsner</div><div class="x" style="left:203px;top:217px;font-size:16px">Wheat</div><div class="x" style="left:203px;top:257px;font-size:16px">Sour</div><div class="x" style="left:203px;top:297px;font-size:16px">Porter</div><div class="x" style="left:203px;top:337px;font-size:16px">Hefeweizen</div><div class="x" style="left:203px;top:377px;font-size:16px">Radler</div>
<div class="c" style="top:438px;height:111px"></div>
<div class="x b" style="left:49px;top:456px;font-size:18px">Distance</div>
<i class="bar" style="left:50px;top:486px;width:178px"></i><i class="kn" style="left:128px;top:478px"></i>
<div class="vb" style="left:231px;top:480px;width:61px;height:28px">25km</div>
<div class="x" style="left:53px;top:512px;font-size:16px">0km</div><div class="x" style="left:186px;top:512px;font-size:16px">50km</div>
<div class="c" style="top:569px;height:109px"></div>
<div class="x b" style="left:49px;top:586px;font-size:18px">Cost</div>
<i class="bar" style="left:50px;top:616px;width:228px"></i><i class="kn" style="left:109px;top:608px"></i>
<div class="x" style="left:53px;top:642px;font-size:16px">$</div><div class="x" style="left:112px;top:642px;font-size:16px">$$</div><div class="x" style="left:187px;top:642px;font-size:16px">$$$</div><div class="x" style="left:242px;top:642px;font-size:16px">$$$$</div>
<div class="c" style="top:699px;height:109px"></div>
<div class="x b" style="left:49px;top:716px;font-size:18px">Rating</div>
<svg style="left:59px;top:741px" width="212" height="38"><use href="#st" x="0" width="38" height="38"/><use href="#st" x="43" width="38" height="38"/><use href="#st" x="86" width="38" height="38"/><use href="#st" x="129" width="38" height="38"/><use href="#st" x="172" width="38" height="38"/></svg>
<div class="c" style="top:829px;height:112px"></div>
<div class="x b" style="left:49px;top:846px;font-size:18px">Time</div>
<div class="dd" style="left:50px;top:881px;width:137px">Closes at... ▼</div>
<div class="vb" style="left:196px;top:881px;width:82px;height:27px;font-weight:normal;font-size:16px">9:00PM</div>
<div class="btn" style="left:67px;top:964px;width:195px;height:45px;font-size:30px;line-height:37px">Apply</div></div>

<!-- ===== LCBO 1 ===== -->
<div class="s" style="left:2378px;top:51px;height:966px"><i class="hb"></i><div class="t">LCBO</div>
<div class="c" style="top:115px;height:826px"></div>
<div class="x b" style="left:48px;top:134px;font-size:18px">Bud Light</div><div class="x" style="left:48px;top:160px;font-size:16px">24 bottles</div><div class="x" style="right:62px;top:160px;font-size:16px">$32.00</div>
<svg style="left:71px;top:210px" width="47" height="37"><use href="#mn"/></svg><div class="q" style="left:136px;top:214px">0</div><svg style="left:211px;top:210px" width="47" height="37"><use href="#pl"/></svg><i class="dv" style="top:262px"></i>
<div class="x b" style="left:48px;top:284px;font-size:18px">Coors Light</div><div class="x" style="left:48px;top:310px;font-size:16px">24 bottles</div><div class="x" style="right:62px;top:310px;font-size:16px">$35.00</div>
<svg style="left:71px;top:360px" width="47" height="37"><use href="#mn"/></svg><div class="q" style="left:136px;top:364px">0</div><svg style="left:211px;top:360px" width="47" height="37"><use href="#pl"/></svg><i class="dv" style="top:412px"></i>
<div class="x b" style="left:48px;top:434px;font-size:18px">Budweiser</div><div class="x" style="left:48px;top:460px;font-size:16px">6 Pack</div><div class="x" style="right:62px;top:460px;font-size:16px">$12.00</div>
<svg style="left:71px;top:510px" width="47" height="37"><use href="#mn"/></svg><div class="q" style="left:136px;top:514px">0</div><svg style="left:211px;top:510px" width="47" height="37"><use href="#pl"/></svg><i class="dv" style="top:562px"></i>
<div class="x b" style="left:48px;top:584px;font-size:18px">Guiness</div><div class="x" style="left:48px;top:610px;font-size:16px">12 Pack</div><div class="x" style="right:62px;top:610px;font-size:16px">$14.00</div>
<svg style="left:71px;top:660px" width="47" height="37"><use href="#mn"/></svg><div class="q" style="left:136px;top:664px">0</div><svg style="left:211px;top:660px" width="47" height="37"><use href="#pl"/></svg><i class="dv" style="top:712px"></i>
<div class="x b" style="left:48px;top:734px;font-size:18px">Stolichynaya</div><div class="x" style="left:48px;top:760px;font-size:16px">1ltr</div><div class="x" style="right:62px;top:760px;font-size:16px">$45.00</div>
<svg style="left:71px;top:810px" width="47" height="37"><use href="#mn"/></svg><div class="q" style="left:136px;top:814px">0</div><svg style="left:211px;top:810px" width="47" height="37"><use href="#pl"/></svg>
<div class="btn" style="left:66px;top:874px;width:197px;height:46px;font-size:28px;line-height:38px">Add to Cart</div></div>

<!-- ===== LCBO 2 ===== -->
<div class="s" style="left:2378px;top:1083px;height:966px"><i class="hb"></i><div class="t">LCBO</div>
<div class="c" style="top:115px;height:826px"></div>
<div class="x b" style="left:48px;top:134px;font-size:18px">Bud Light</div><div class="x" style="left:48px;top:160px;font-size:16px">24 bottles</div><div class="x" style="right:62px;top:160px;font-size:16px">$32.00</div>
<svg style="left:71px;top:210px" width="47" height="37"><use href="#mn"/></svg><div class="q" style="left:136px;top:214px">1</div><svg style="left:211px;top:210px" width="47" height="37"><use href="#pl"/></svg><i class="dv" style="top:262px"></i>
<div class="x b" style="left:48px;top:284px;font-size:18px">Coors Light</div><div class="x" style="left:48px;top:310px;font-size:16px">24 bottles</div><div class="x" style="right:62px;top:310px;font-size:16px">$35.00</div>
<svg style="left:71px;top:360px" width="47" height="37"><use href="#mn"/></svg><div class="q" style="left:136px;top:364px">0</div><svg style="left:211px;top:360px" width="47" height="37"><use href="#pl"/></svg><i class="dv" style="top:412px"></i>
<div class="x b" style="left:48px;top:434px;font-size:18px">Budweiser</div><div class="x" style="left:48px;top:460px;font-size:16px">6 Pack</div><div class="x" style="right:62px;top:460px;font-size:16px">$12.00</div>
<svg style="left:71px;top:510px" width="47" height="37"><use href="#mn"/></svg><div class="q" style="left:136px;top:514px">0</div><svg style="left:211px;top:510px" width="47" height="37"><use href="#pl"/></svg><i class="dv" style="top:562px"></i>
<div class="x b" style="left:48px;top:584px;font-size:18px">Guiness</div><div class="x" style="left:48px;top:610px;font-size:16px">12 Pack</div><div class="x" style="right:62px;top:610px;font-size:16px">$14.00</div>
<svg style="left:71px;top:660px" width="47" height="37"><use href="#mn"/></svg><div class="q" style="left:136px;top:664px">0</div><svg style="left:211px;top:660px" width="47" height="37"><use href="#pl"/></svg><i class="dv" style="top:712px"></i>
<div class="x b" style="left:48px;top:734px;font-size:18px">Stolichynaya</div><div class="x" style="left:48px;top:760px;font-size:16px">1ltr</div><div class="x" style="right:62px;top:760px;font-size:16px">$45.00</div>
<svg style="left:71px;top:810px" width="47" height="37"><use href="#mn"/></svg><div class="q" style="left:136px;top:814px">0</div><svg style="left:211px;top:810px" width="47" height="37"><use href="#pl"/></svg>
<div class="btn" style="left:66px;top:874px;width:197px;height:46px;font-size:28px;line-height:38px">Add to Cart</div></div>

<!-- ===== BELLWOODS 1 ===== -->
<div class="s" style="left:2378px;top:2115px;height:966px"><i class="hb"></i><div class="t">BELLWOODS</div>
<div class="c" style="top:115px;height:826px"></div>
<div class="x b" style="left:48px;top:134px;font-size:18px">Crazy Cat Lady</div><div class="x" style="left:48px;top:160px;font-size:15px">Tall cans of hoppy IPA</div><div class="x" style="right:61px;top:160px;font-size:15px">$5.00</div>
<svg style="left:71px;top:210px" width="47" height="37"><use href="#mn"/></svg><div class="q" style="left:136px;top:214px">0</div><svg style="left:211px;top:210px" width="47" height="37"><use href="#pl"/></svg><i class="dv" style="top:262px"></i>
<div class="x b" style="left:48px;top:284px;font-size:18px">The Inner Eye</div><div class="x" style="left:48px;top:310px;font-size:15px">Tall cans of pilsner</div><div class="x" style="right:61px;top:310px;font-size:15px">$5.00</div>
<svg style="left:71px;top:360px" width="47" height="37"><use href="#mn"/></svg><div class="q" style="left:136px;top:364px">0</div><svg style="left:211px;top:360px" width="47" height="37"><use href="#pl"/></svg><i class="dv" style="top:412px"></i>
<div class="x b" style="left:48px;top:434px;font-size:18px">God's Flesh</div><div class="x" style="left:48px;top:460px;font-size:15px">4 Pack of tasty beer</div><div class="x" style="right:61px;top:460px;font-size:15px">$6.00</div>
<svg style="left:71px;top:510px" width="47" height="37"><use href="#mn"/></svg><div class="q" style="left:136px;top:514px">0</div><svg style="left:211px;top:510px" width="47" height="37"><use href="#pl"/></svg><i class="dv" style="top:562px"></i>
<div class="x b" style="left:48px;top:584px;font-size:18px">Roman Candle</div><div class="x" style="left:48px;top:610px;font-size:15px">Hoppy and tasty all at</div><div class="x" style="left:48px;top:629px;font-size:15px">the same time!</div><div class="x" style="right:61px;top:610px;font-size:15px">$6.00</div>
<svg style="left:71px;top:660px" width="47" height="37"><use href="#mn"/></svg><div class="q" style="left:136px;top:664px">0</div><svg style="left:211px;top:660px" width="47" height="37"><use href="#pl"/></svg><i class="dv" style="top:712px"></i>
<div class="x b" style="left:48px;top:734px;font-size:18px">Jutzu</div><div class="x" style="left:48px;top:760px;font-size:15px">Refreshing delicious</div><div class="x" style="left:48px;top:779px;font-size:15px">lager in a tall can</div><div class="x" style="right:61px;top:760px;font-size:15px">$6.00</div>
<svg style="left:71px;top:810px" width="47" height="37"><use href="#mn"/></svg><div class="q" style="left:136px;top:814px">0</div><svg style="left:211px;top:810px" width="47" height="37"><use href="#pl"/></svg>
<div class="btn" style="left:66px;top:874px;width:197px;height:46px;font-size:28px;line-height:38px">Add to Cart</div></div>

<!-- ===== BELLWOODS 2 ===== -->
<div class="s" style="left:2378px;top:3147px;height:966px"><i class="hb"></i><div class="t">BELLWOODS</div>
<div class="c" style="top:115px;height:826px"></div>
<div class="x b" style="left:48px;top:134px;font-size:18px">Crazy Cat Lady</div><div class="x" style="left:48px;top:160px;font-size:15px">Tall cans of hoppy IPA</div><div class="x" style="right:61px;top:160px;font-size:15px">$5.00</div>
<svg style="left:71px;top:210px" width="47" height="37"><use href="#mn"/></svg><div class="q" style="left:136px;top:214px">2</div><svg style="left:211px;top:210px" width="47" height="37"><use href="#pl"/></svg><i class="dv" style="top:262px"></i>
<div class="x b" style="left:48px;top:284px;font-size:18px">The Inner Eye</div><div class="x" style="left:48px;top:310px;font-size:15px">Tall cans of pilsner</div><div class="x" style="right:61px;top:310px;font-size:15px">$5.00</div>
<svg style="left:71px;top:360px" width="47" height="37"><use href="#mn"/></svg><div class="q" style="left:136px;top:364px">4</div><svg style="left:211px;top:360px" width="47" height="37"><use href="#pl"/></svg><i class="dv" style="top:412px"></i>
<div class="x b" style="left:48px;top:434px;font-size:18px">God's Flesh</div><div class="x" style="left:48px;top:460px;font-size:15px">4 Pack of tasty beer</div><div class="x" style="right:61px;top:460px;font-size:15px">$6.00</div>
<svg style="left:71px;top:510px" width="47" height="37"><use href="#mn"/></svg><div class="q" style="left:136px;top:514px">1</div><svg style="left:211px;top:510px" width="47" height="37"><use href="#pl"/></svg><i class="dv" style="top:562px"></i>
<div class="x b" style="left:48px;top:584px;font-size:18px">Roman Candle</div><div class="x" style="left:48px;top:610px;font-size:15px">Hoppy and tasty all at</div><div class="x" style="left:48px;top:629px;font-size:15px">the same time!</div><div class="x" style="right:61px;top:610px;font-size:15px">$6.00</div>
<svg style="left:71px;top:660px" width="47" height="37"><use href="#mn"/></svg><div class="q" style="left:136px;top:664px">0</div><svg style="left:211px;top:660px" width="47" height="37"><use href="#pl"/></svg><i class="dv" style="top:712px"></i>
<div class="x b" style="left:48px;top:734px;font-size:18px">Jutzu</div><div class="x" style="left:48px;top:760px;font-size:15px">Refreshing delicious</div><div class="x" style="left:48px;top:779px;font-size:15px">lager in a tall can</div><div class="x" style="right:61px;top:760px;font-size:15px">$6.00</div>
<svg style="left:71px;top:810px" width="47" height="37"><use href="#mn"/></svg><div class="q" style="left:136px;top:814px">0</div><svg style="left:211px;top:810px" width="47" height="37"><use href="#pl"/></svg>
<div class="btn" style="left:66px;top:874px;width:197px;height:46px;font-size:28px;line-height:38px">Add to Cart</div></div>

<!-- ===== CART ===== -->
<div class="s" style="left:2764px;top:51px;height:858px"><i class="hb"></i>
<svg style="left:271px;top:22px" width="32" height="28"><use href="#cart"/></svg>
<div class="t">CART</div>
<div class="c" style="left:28px;width:271px;top:115px;height:720px"></div>
<div class="x b" style="left:48px;top:135px;font-size:16px">BELLWOODS</div>
<div class="x b" style="left:48px;top:164px;font-size:17px">Crazy Cat Lady</div>
<div class="x" style="left:48px;top:193px;font-size:15px">Each</div><div class="x" style="left:140px;width:40px;text-align:center;top:193px;font-size:15px">Qty</div><div class="x" style="right:41px;top:193px;font-size:15px">Total</div>
<div class="x" style="left:48px;top:212px;font-size:15px">$5.00</div><div class="x" style="left:140px;width:40px;text-align:center;top:212px;font-size:15px">2</div><div class="x" style="right:41px;top:212px;font-size:15px">$10.00</div>
<div class="x b" style="left:48px;top:244px;font-size:17px">The Inner Eye</div>
<div class="x" style="left:48px;top:272px;font-size:15px">Each</div><div class="x" style="left:140px;width:40px;text-align:center;top:272px;font-size:15px">Qty</div><div class="x" style="right:41px;top:272px;font-size:15px">Total</div>
<div class="x" style="left:48px;top:292px;font-size:15px">$5.00</div><div class="x" style="left:140px;width:40px;text-align:center;top:292px;font-size:15px">4</div><div class="x" style="right:41px;top:292px;font-size:15px">$20.00</div>
<div class="x b" style="left:48px;top:324px;font-size:17px">God's Flesh</div>
<div class="x" style="left:48px;top:353px;font-size:15px">Each</div><div class="x" style="left:140px;width:40px;text-align:center;top:353px;font-size:15px">Qty</div><div class="x" style="right:41px;top:353px;font-size:15px">Total</div>
<div class="x" style="left:48px;top:372px;font-size:15px">$6.00</div><div class="x" style="left:140px;width:40px;text-align:center;top:372px;font-size:15px">2</div><div class="x" style="right:41px;top:372px;font-size:15px">$12.00</div>
<i class="dv" style="top:411px;width:231px;height:1.5px"></i>
<div class="x" style="left:48px;top:435px;font-size:16px">LCBO</div>
<div class="x b" style="left:48px;top:464px;font-size:17px">Bud Light</div>
<div class="x" style="left:48px;top:493px;font-size:15px">Each</div><div class="x" style="left:140px;width:40px;text-align:center;top:493px;font-size:15px">Qty</div><div class="x" style="right:41px;top:493px;font-size:15px">Total</div>
<div class="x" style="left:48px;top:512px;font-size:15px">$32.00</div><div class="x" style="left:140px;width:40px;text-align:center;top:512px;font-size:15px">1</div><div class="x" style="right:41px;top:512px;font-size:15px">$32.00</div>
<i class="dv" style="top:551px;width:231px;height:1.5px"></i>
<div class="x b" style="left:48px;top:586px;font-size:14px">Subtotal</div><div class="x b" style="left:130px;width:60px;text-align:center;top:586px;font-size:14px">Taxes</div><div class="x b" style="right:41px;top:586px;font-size:14px">Shipping</div>
<div class="x" style="left:48px;top:605px;font-size:15px">$74.00</div><div class="x" style="left:130px;width:60px;text-align:center;top:605px;font-size:15px">$15.00</div><div class="x" style="right:41px;top:605px;font-size:15px">$20.00</div>
<div class="x" style="left:0;width:332px;text-align:center;top:666px;font-size:30px">TOTAL</div>
<div class="x b" style="left:0;width:320px;text-align:center;top:704px;font-size:32px">$109.00</div>
<div class="btn" style="left:66px;top:754px;width:196px;height:45px;font-size:28px;line-height:37px">Checkout</div></div>

<!-- ===== LOGIN ===== -->
<div class="s" style="left:3150px;top:51px;height:639px"><i class="hb"></i><div class="t">LOGIN</div>
<div class="c" style="top:115px;height:499px"></div>
<div class="x b" style="left:48px;top:159px;font-size:16px">EMAIL</div><div class="in" style="left:48px;top:184px;width:233px"></div>
<div class="x b" style="left:48px;top:248px;font-size:16px">PASSWORD</div><div class="in" style="left:48px;top:274px;width:233px"></div>
<div class="btn" style="left:63px;top:374px;width:196px;height:46px;font-size:28px;line-height:38px">Login</div>
<div class="x b" style="left:140px;width:60px;text-align:center;top:454px;font-size:16px">OR</div>
<div class="x b" style="left:0;width:340px;text-align:center;top:499px;font-size:29px">SIGN UP</div>
<i class="d" style="left:115px;top:573px"></i><i class="d d0" style="left:152px;top:573px"></i><i class="d d0" style="left:189px;top:573px"></i></div>
<div class="s" style="left:3150px;top:756px;height:639px"><i class="hb"></i><div class="t">LOGIN</div>
<div class="c" style="top:115px;height:499px"></div>
<div class="x b" style="left:48px;top:159px;font-size:16px">EMAIL</div><div class="in" style="left:48px;top:184px;width:233px">jason@gmail.com</div>
<div class="x b" style="left:48px;top:248px;font-size:16px">PASSWORD</div><div class="in" style="left:48px;top:274px;width:233px"></div>
<div class="btn" style="left:63px;top:374px;width:196px;height:46px;font-size:28px;line-height:38px">Login</div>
<div class="x b" style="left:140px;width:60px;text-align:center;top:454px;font-size:16px">OR</div>
<div class="x b" style="left:0;width:340px;text-align:center;top:499px;font-size:29px">SIGN UP</div>
<i class="d" style="left:115px;top:573px"></i><i class="d d0" style="left:152px;top:573px"></i><i class="d d0" style="left:189px;top:573px"></i></div>
<div class="s" style="left:3150px;top:1461px;height:639px"><i class="hb"></i><div class="t">LOGIN</div>
<div class="c" style="top:115px;height:499px"></div>
<div class="x b" style="left:48px;top:159px;font-size:16px">EMAIL</div><div class="in" style="left:48px;top:184px;width:233px">jason@gmail.com</div>
<div class="x b" style="left:48px;top:248px;font-size:16px">PASSWORD</div><div class="in" style="left:48px;top:274px;width:233px;line-height:40px">*********</div>
<div class="btn" style="left:63px;top:374px;width:196px;height:46px;font-size:28px;line-height:38px">Login</div>
<div class="x b" style="left:140px;width:60px;text-align:center;top:454px;font-size:16px">OR</div>
<div class="x b" style="left:0;width:340px;text-align:center;top:499px;font-size:29px">SIGN UP</div>
<i class="d" style="left:115px;top:573px"></i><i class="d d0" style="left:152px;top:573px"></i><i class="d d0" style="left:189px;top:573px"></i></div>

<!-- ===== SIGN UP ===== -->
<div class="s" style="left:3536px;top:51px;height:639px"><i class="hb"></i><div class="t">SIGN UP</div>
<div class="c" style="top:115px;height:499px"></div>
<div class="x b" style="left:48px;top:159px;font-size:16px">EMAIL</div><div class="in" style="left:48px;top:184px;width:233px"></div>
<div class="x b" style="left:48px;top:248px;font-size:16px">PASSWORD</div><div class="in" style="left:48px;top:274px;width:233px"></div>
<div class="btn" style="left:63px;top:374px;width:196px;height:46px;font-size:28px;line-height:38px">Sign Up</div>
<div class="x b" style="left:0;width:322px;text-align:center;top:454px;font-size:16px;text-decoration:underline">Terms and Conditions</div></div>
<div class="s" style="left:3536px;top:756px;height:639px"><i class="hb"></i><div class="t">SIGN UP</div>
<div class="c" style="top:115px;height:499px"></div>
<div class="x b" style="left:48px;top:159px;font-size:16px">EMAIL</div><div class="in" style="left:48px;top:184px;width:233px">jason@gmail.com</div>
<div class="x b" style="left:48px;top:248px;font-size:16px">PASSWORD</div><div class="in" style="left:48px;top:274px;width:233px"></div>
<div class="btn" style="left:63px;top:374px;width:196px;height:46px;font-size:28px;line-height:38px">Sign Up</div>
<div class="x b" style="left:0;width:322px;text-align:center;top:454px;font-size:16px;text-decoration:underline">Terms and Conditions</div></div>
<div class="s" style="left:3536px;top:1461px;height:639px"><i class="hb"></i><div class="t">SIGN UP</div>
<div class="c" style="top:115px;height:499px"></div>
<div class="x b" style="left:48px;top:159px;font-size:16px">EMAIL</div><div class="in" style="left:48px;top:184px;width:233px">jason@gmail.com</div>
<div class="x b" style="left:48px;top:248px;font-size:16px">PASSWORD</div><div class="in" style="left:48px;top:274px;width:233px;line-height:40px">*********</div>
<div class="btn" style="left:63px;top:374px;width:196px;height:46px;font-size:28px;line-height:38px">Sign Up</div>
<div class="x b" style="left:0;width:322px;text-align:center;top:454px;font-size:16px;text-decoration:underline">Terms and Conditions</div></div>

<!-- ===== SHIPPING rows ===== -->
<div class="s" style="left:3922px;top:51px;height:639px"><i class="hb"></i><div class="t">SHIPPING</div>
<div class="c" style="left:28px;width:272px;top:116px;height:501px"></div>
<div class="x b" style="left:48px;top:159px;font-size:16px">FULL NAME</div><div class="in" style="left:48px;top:185px;width:234px"></div>
<div class="x b" style="left:48px;top:249px;font-size:16px">ADDRESS</div><div class="in" style="left:48px;top:275px;width:234px"></div>
<div class="x b" style="left:48px;top:340px;font-size:16px">CITY</div><div class="x b" style="left:196px;top:340px;font-size:16px">PROV</div>
<div class="in" style="left:48px;top:366px;width:117px"></div><div class="in" style="left:196px;top:366px;width:86px"></div>
<div class="x b" style="left:48px;top:430px;font-size:16px">POSTAL CODE</div><div class="x b" style="left:195px;top:430px;font-size:16px">COUNTRY</div>
<div class="in" style="left:48px;top:456px;width:117px"></div><div class="in" style="left:196px;top:456px;width:86px"></div>
<div class="btn" style="left:62px;top:516px;width:198px;height:46px;font-size:28px;line-height:38px">Submit</div>
<i class="d" style="left:115px;top:575px"></i><i class="d" style="left:152px;top:575px"></i><i class="d d0" style="left:189px;top:575px"></i></div>

<div class="s" style="left:3922px;top:756px;height:639px"><i class="hb"></i><div class="t">SHIPPING</div>
<div class="c" style="left:28px;width:272px;top:116px;height:501px"></div>
<div class="x b" style="left:48px;top:159px;font-size:16px">FULL NAME</div><div class="in" style="left:48px;top:185px;width:234px">Jason Smith</div>
<div class="x b" style="left:48px;top:249px;font-size:16px">ADDRESS</div><div class="in" style="left:48px;top:275px;width:234px"></div>
<div class="x b" style="left:48px;top:340px;font-size:16px">CITY</div><div class="x b" style="left:196px;top:340px;font-size:16px">PROV</div>
<div class="in" style="left:48px;top:366px;width:117px"></div><div class="in" style="left:196px;top:366px;width:86px"></div>
<div class="x b" style="left:48px;top:430px;font-size:16px">POSTAL CODE</div><div class="x b" style="left:195px;top:430px;font-size:16px">COUNTRY</div>
<div class="in" style="left:48px;top:456px;width:117px"></div><div class="in" style="left:196px;top:456px;width:86px"></div>
<div class="btn" style="left:62px;top:516px;width:198px;height:46px;font-size:28px;line-height:38px">Submit</div>
<i class="d" style="left:115px;top:575px"></i><i class="d" style="left:152px;top:575px"></i><i class="d d0" style="left:189px;top:575px"></i></div>

<div class="s" style="left:3922px;top:1461px;height:639px"><i class="hb"></i><div class="t">SHIPPING</div>
<div class="c" style="left:28px;width:272px;top:116px;height:501px"></div>
<div class="x b" style="left:48px;top:159px;font-size:16px">FULL NAME</div><div class="in" style="left:48px;top:185px;width:234px">Jason Smith</div>
<div class="x b" style="left:48px;top:249px;font-size:16px">ADDRESS</div><div class="in" style="left:48px;top:275px;width:234px">100 Streety McStreet St</div>
<div class="x b" style="left:48px;top:340px;font-size:16px">CITY</div><div class="x b" style="left:196px;top:340px;font-size:16px">PROV</div>
<div class="in" style="left:48px;top:366px;width:117px"></div><div class="in" style="left:196px;top:366px;width:86px"></div>
<div class="x b" style="left:48px;top:430px;font-size:16px">POSTAL CODE</div><div class="x b" style="left:195px;top:430px;font-size:16px">COUNTRY</div>
<div class="in" style="left:48px;top:456px;width:117px"></div><div class="in" style="left:196px;top:456px;width:86px"></div>
<div class="btn" style="left:62px;top:516px;width:198px;height:46px;font-size:28px;line-height:38px">Submit</div>
<i class="d" style="left:115px;top:575px"></i><i class="d" style="left:152px;top:575px"></i><i class="d d0" style="left:189px;top:575px"></i></div>

<div class="s" style="left:3922px;top:2166px;height:639px"><i class="hb"></i><div class="t">SHIPPING</div>
<div class="c" style="left:28px;width:272px;top:116px;height:501px"></div>
<div class="x b" style="left:48px;top:159px;font-size:16px">FULL NAME</div><div class="in" style="left:48px;top:185px;width:234px">Jason Smith</div>
<div class="x b" style="left:48px;top:249px;font-size:16px">ADDRESS</div><div class="in" style="left:48px;top:275px;width:234px">100 Streety McStreet St</div>
<div class="x b" style="left:48px;top:340px;font-size:16px">CITY</div><div class="x b" style="left:196px;top:340px;font-size:16px">PROV</div>
<div class="in" style="left:48px;top:366px;width:117px">Toronto</div><div class="in" style="left:196px;top:366px;width:86px"></div>
<div class="x b" style="left:48px;top:430px;font-size:16px">POSTAL CODE</div><div class="x b" style="left:195px;top:430px;font-size:16px">COUNTRY</div>
<div class="in" style="left:48px;top:456px;width:117px"></div><div class="in" style="left:196px;top:456px;width:86px"></div>
<div class="btn" style="left:62px;top:516px;width:198px;height:46px;font-size:28px;line-height:38px">Submit</div>
<i class="d" style="left:115px;top:575px"></i><i class="d" style="left:152px;top:575px"></i><i class="d d0" style="left:189px;top:575px"></i></div>

<div class="s" style="left:3922px;top:2871px;height:639px"><i class="hb"></i><div class="t">SHIPPING</div>
<div class="c" style="left:28px;width:272px;top:116px;height:501px"></div>
<div class="x b" style="left:48px;top:159px;font-size:16px">FULL NAME</div><div class="in" style="left:48px;top:185px;width:234px">Jason Smith</div>
<div class="x b" style="left:48px;top:249px;font-size:16px">ADDRESS</div><div class="in" style="left:48px;top:275px;width:234px">100 Streety McStreet St</div>
<div class="x b" style="left:48px;top:340px;font-size:16px">CITY</div><div class="x b" style="left:196px;top:340px;font-size:16px">PROV</div>
<div class="in" style="left:48px;top:366px;width:117px">Toronto</div><div class="in" style="left:196px;top:366px;width:86px;padding-left:15px">ON</div>
<div class="x b" style="left:48px;top:430px;font-size:16px">POSTAL CODE</div><div class="x b" style="left:195px;top:430px;font-size:16px">COUNTRY</div>
<div class="in" style="left:48px;top:456px;width:117px"></div><div class="in" style="left:196px;top:456px;width:86px"></div>
<div class="btn" style="left:62px;top:516px;width:198px;height:46px;font-size:28px;line-height:38px">Submit</div>
<i class="d" style="left:115px;top:575px"></i><i class="d" style="left:152px;top:575px"></i><i class="d d0" style="left:189px;top:575px"></i></div>

<div class="s" style="left:3922px;top:3576px;height:639px"><i class="hb"></i><div class="t">SHIPPING</div>
<div class="c" style="left:28px;width:272px;top:116px;height:501px"></div>
<div class="x b" style="left:48px;top:159px;font-size:16px">FULL NAME</div><div class="in" style="left:48px;top:185px;width:234px">Jason Smith</div>
<div class="x b" style="left:48px;top:249px;font-size:16px">ADDRESS</div><div class="in" style="left:48px;top:275px;width:234px">100 Streety McStreet St</div>
<div class="x b" style="left:48px;top:340px;font-size:16px">CITY</div><div class="x b" style="left:196px;top:340px;font-size:16px">PROV</div>
<div class="in" style="left:48px;top:366px;width:117px">Toronto</div><div class="in" style="left:196px;top:366px;width:86px;padding-left:15px">ON</div>
<div class="x b" style="left:48px;top:430px;font-size:16px">POSTAL CODE</div><div class="x b" style="left:195px;top:430px;font-size:16px">COUNTRY</div>
<div class="in" style="left:48px;top:456px;width:117px">M1M 1M1</div><div class="in" style="left:196px;top:456px;width:86px"></div>
<div class="btn" style="left:62px;top:516px;width:198px;height:46px;font-size:28px;line-height:38px">Submit</div>
<i class="d" style="left:115px;top:575px"></i><i class="d" style="left:152px;top:575px"></i><i class="d d0" style="left:189px;top:575px"></i></div>

<div class="s" style="left:3922px;top:4281px;height:639px"><i class="hb"></i><div class="t">SHIPPING</div>
<div class="c" style="left:28px;width:272px;top:116px;height:501px"></div>
<div class="x b" style="left:48px;top:159px;font-size:16px">FULL NAME</div><div class="in" style="left:48px;top:185px;width:234px">Jason Smith</div>
<div class="x b" style="left:48px;top:249px;font-size:16px">ADDRESS</div><div class="in" style="left:48px;top:275px;width:234px">100 Streety McStreet St</div>
<div class="x b" style="left:48px;top:340px;font-size:16px">CITY</div><div class="x b" style="left:196px;top:340px;font-size:16px">PROV</div>
<div class="in" style="left:48px;top:366px;width:117px">Toronto</div><div class="in" style="left:196px;top:366px;width:86px;padding-left:15px">ON</div>
<div class="x b" style="left:48px;top:430px;font-size:16px">POSTAL CODE</div><div class="x b" style="left:195px;top:430px;font-size:16px">COUNTRY</div>
<div class="in" style="left:48px;top:456px;width:117px">M1M 1M1</div><div class="in" style="left:196px;top:456px;width:86px;padding-left:15px;font-size:12px;line-height:42px">CANADA</div>
<div class="btn" style="left:62px;top:516px;width:198px;height:46px;font-size:28px;line-height:38px">Submit</div>
<i class="d" style="left:115px;top:575px"></i><i class="d" style="left:152px;top:575px"></i><i class="d d0" style="left:189px;top:575px"></i></div>

<!-- ===== PAYMENT rows ===== -->
<div class="s" style="left:4308px;top:52px;height:639px"><i class="hb"></i><div class="t">PAYMENT</div>
<div class="c" style="left:28px;width:272px;top:117px;height:501px"></div>
<div class="x b" style="left:48px;top:159px;font-size:16px">CARDHOLDER NAME</div><div class="in" style="left:48px;top:185px;width:234px"></div>
<div class="x b" style="left:48px;top:249px;font-size:16px">CARD NUMBER</div><div class="in" style="left:48px;top:275px;width:234px"></div>
<div class="x b" style="left:48px;top:340px;font-size:16px">EXP</div><div class="x b" style="left:195px;top:340px;font-size:16px">CCV</div>
<div class="in" style="left:48px;top:366px;width:116px"></div><div class="in" style="left:195px;top:366px;width:87px"></div>
<div class="x b" style="left:48px;top:430px;font-size:16px">ADDRESS</div>
<i class="cb" style="left:48px;top:462px;width:30px;height:30px"></i><div class="x b" style="left:91px;top:469px;font-size:16px">Use Shipping</div>
<div class="btn" style="left:62px;top:516px;width:198px;height:46px;font-size:28px;line-height:38px">Place Order</div>
<i class="d" style="left:115px;top:576px"></i><i class="d" style="left:152px;top:576px"></i><i class="d" style="left:189px;top:576px"></i></div>

<div class="s" style="left:4308px;top:758px;height:639px"><i class="hb"></i><div class="t">PAYMENT</div>
<div class="c" style="left:28px;width:272px;top:117px;height:501px"></div>
<div class="x b" style="left:48px;top:159px;font-size:16px">CARDHOLDER NAME</div><div class="in" style="left:48px;top:185px;width:234px">Jason Smith</div>
<div class="x b" style="left:48px;top:249px;font-size:16px">CARD NUMBER</div><div class="in" style="left:48px;top:275px;width:234px"></div>
<div class="x b" style="left:48px;top:340px;font-size:16px">EXP</div><div class="x b" style="left:195px;top:340px;font-size:16px">CCV</div>
<div class="in" style="left:48px;top:366px;width:116px"></div><div class="in" style="left:195px;top:366px;width:87px"></div>
<div class="x b" style="left:48px;top:430px;font-size:16px">ADDRESS</div>
<i class="cb" style="left:48px;top:462px;width:30px;height:30px"></i><div class="x b" style="left:91px;top:469px;font-size:16px">Use Shipping</div>
<div class="btn" style="left:62px;top:516px;width:198px;height:46px;font-size:28px;line-height:38px">Place Order</div>
<i class="d" style="left:115px;top:576px"></i><i class="d" style="left:152px;top:576px"></i><i class="d" style="left:189px;top:576px"></i></div>

<div class="s" style="left:4308px;top:1464px;height:639px"><i class="hb"></i><div class="t">PAYMENT</div>
<div class="c" style="left:28px;width:272px;top:117px;height:501px"></div>
<div class="x b" style="left:48px;top:159px;font-size:16px">CARDHOLDER NAME</div><div class="in" style="left:48px;top:185px;width:234px">Jason Smith</div>
<div class="x b" style="left:48px;top:249px;font-size:16px">CARD NUMBER</div><div class="in" style="left:48px;top:275px;width:234px">2344 2344 2344 2333</div>
<div class="x b" style="left:48px;top:340px;font-size:16px">EXP</div><div class="x b" style="left:195px;top:340px;font-size:16px">CCV</div>
<div class="in" style="left:48px;top:366px;width:116px"></div><div class="in" style="left:195px;top:366px;width:87px"></div>
<div class="x b" style="left:48px;top:430px;font-size:16px">ADDRESS</div>
<i class="cb" style="left:48px;top:462px;width:30px;height:30px"></i><div class="x b" style="left:91px;top:469px;font-size:16px">Use Shipping</div>
<div class="btn" style="left:62px;top:516px;width:198px;height:46px;font-size:28px;line-height:38px">Place Order</div>
<i class="d" style="left:115px;top:576px"></i><i class="d" style="left:152px;top:576px"></i><i class="d" style="left:189px;top:576px"></i></div>

<div class="s" style="left:4308px;top:2170px;height:639px"><i class="hb"></i><div class="t">PAYMENT</div>
<div class="c" style="left:28px;width:272px;top:117px;height:501px"></div>
<div class="x b" style="left:48px;top:159px;font-size:16px">CARDHOLDER NAME</div><div class="in" style="left:48px;top:185px;width:234px">Jason Smith</div>
<div class="x b" style="left:48px;top:249px;font-size:16px">CARD NUMBER</div><div class="in" style="left:48px;top:275px;width:234px">2344 2344 2344 2333</div>
<div class="x b" style="left:48px;top:340px;font-size:16px">EXP</div><div class="x b" style="left:195px;top:340px;font-size:16px">CCV</div>
<div class="in" style="left:48px;top:366px;width:116px">12/24</div><div class="in" style="left:195px;top:366px;width:87px"></div>
<div class="x b" style="left:48px;top:430px;font-size:16px">ADDRESS</div>
<i class="cb" style="left:48px;top:462px;width:30px;height:30px"></i><div class="x b" style="left:91px;top:469px;font-size:16px">Use Shipping</div>
<div class="btn" style="left:62px;top:516px;width:198px;height:46px;font-size:28px;line-height:38px">Place Order</div>
<i class="d" style="left:115px;top:576px"></i><i class="d" style="left:152px;top:576px"></i><i class="d" style="left:189px;top:576px"></i></div>

<div class="s" style="left:4308px;top:2876px;height:639px"><i class="hb"></i><div class="t">PAYMENT</div>
<div class="c" style="left:28px;width:272px;top:117px;height:501px"></div>
<div class="x b" style="left:48px;top:159px;font-size:16px">CARDHOLDER NAME</div><div class="in" style="left:48px;top:185px;width:234px">Jason Smith</div>
<div class="x b" style="left:48px;top:249px;font-size:16px">CARD NUMBER</div><div class="in" style="left:48px;top:275px;width:234px">2344 2344 2344 2333</div>
<div class="x b" style="left:48px;top:340px;font-size:16px">EXP</div><div class="x b" style="left:195px;top:340px;font-size:16px">CCV</div>
<div class="in" style="left:48px;top:366px;width:116px">12/24</div><div class="in" style="left:195px;top:366px;width:87px;padding-left:15px">111</div>
<div class="x b" style="left:48px;top:430px;font-size:16px">ADDRESS</div>
<i class="cb" style="left:48px;top:462px;width:30px;height:30px"></i><div class="x b" style="left:91px;top:469px;font-size:16px">Use Shipping</div>
<div class="btn" style="left:62px;top:516px;width:198px;height:46px;font-size:28px;line-height:38px">Place Order</div>
<i class="d" style="left:115px;top:576px"></i><i class="d" style="left:152px;top:576px"></i><i class="d" style="left:189px;top:576px"></i></div>

<div class="s" style="left:4308px;top:3582px;height:639px"><i class="hb"></i><div class="t">PAYMENT</div>
<div class="c" style="left:28px;width:272px;top:117px;height:501px"></div>
<div class="x b" style="left:48px;top:159px;font-size:16px">CARDHOLDER NAME</div><div class="in" style="left:48px;top:185px;width:234px">Jason Smith</div>
<div class="x b" style="left:48px;top:249px;font-size:16px">CARD NUMBER</div><div class="in" style="left:48px;top:275px;width:234px">2344 2344 2344 2333</div>
<div class="x b" style="left:48px;top:340px;font-size:16px">EXP</div><div class="x b" style="left:195px;top:340px;font-size:16px">CCV</div>
<div class="in" style="left:48px;top:366px;width:116px">12/24</div><div class="in" style="left:195px;top:366px;width:87px;padding-left:15px">111</div>
<div class="x b" style="left:48px;top:430px;font-size:16px">ADDRESS</div>
<i class="cb on" style="left:48px;top:462px;width:30px;height:30px"></i><div class="x b" style="left:91px;top:469px;font-size:16px">Use Shipping</div>
<div class="btn" style="left:62px;top:516px;width:198px;height:46px;font-size:28px;line-height:38px">Place Order</div>
<i class="d" style="left:115px;top:576px"></i><i class="d" style="left:152px;top:576px"></i><i class="d" style="left:189px;top:576px"></i></div>

<!-- ===== BILLING ===== -->
<div class="s" style="left:4694px;top:51px;height:682px"><i class="hb"></i><div class="t">BILLING</div>
<div class="c" style="left:28px;width:272px;top:116px;height:536px"></div>
<div class="x b" style="left:48px;top:159px;font-size:16px">FULL NAME</div><div class="in" style="left:48px;top:185px;width:234px"></div>
<div class="x b" style="left:48px;top:249px;font-size:16px">ADDRESS</div><div class="in" style="left:48px;top:275px;width:234px"></div>
<div class="x b" style="left:48px;top:340px;font-size:16px">CITY</div><div class="x b" style="left:196px;top:340px;font-size:16px">PROV</div>
<div class="in" style="left:48px;top:366px;width:117px"></div><div class="in" style="left:196px;top:366px;width:86px"></div>
<div class="x b" style="left:48px;top:430px;font-size:16px">POSTAL CODE</div><div class="x b" style="left:195px;top:430px;font-size:16px">COUNTRY</div>
<div class="in" style="left:48px;top:456px;width:117px"></div><div class="in" style="left:196px;top:456px;width:86px"></div>
<div class="btn" style="left:62px;top:516px;width:198px;height:46px;font-size:28px;line-height:38px">Submit</div>
<i class="cb" style="left:48px;top:588px;width:30px;height:30px"></i><div class="x b" style="left:91px;top:595px;font-size:16px">Use Shipping</div></div>

<!-- ===== CONFIRMATION ===== -->
<div class="s" style="left:5080px;top:52px;height:639px"><i class="hb"></i><div class="t" style="font-size:30px;top:75px">CONFIRMATION</div>
<div class="c" style="left:28px;width:272px;top:117px;height:250px"></div>
<div class="x b" style="left:48px;top:160px;font-size:15px">Your order has been placed!</div>
<div class="x b" style="left:48px;top:202px;font-size:15px">We are getting it ready to</div>
<div class="x b" style="left:48px;top:223px;font-size:15px">send out - you should get it</div>
<div class="x b" style="left:48px;top:244px;font-size:15px">in 30 - 45 minutes!</div>
<div class="x b" style="left:48px;top:286px;font-size:15px">Confirmation: 456223</div></div>

</div>
</body></html>
